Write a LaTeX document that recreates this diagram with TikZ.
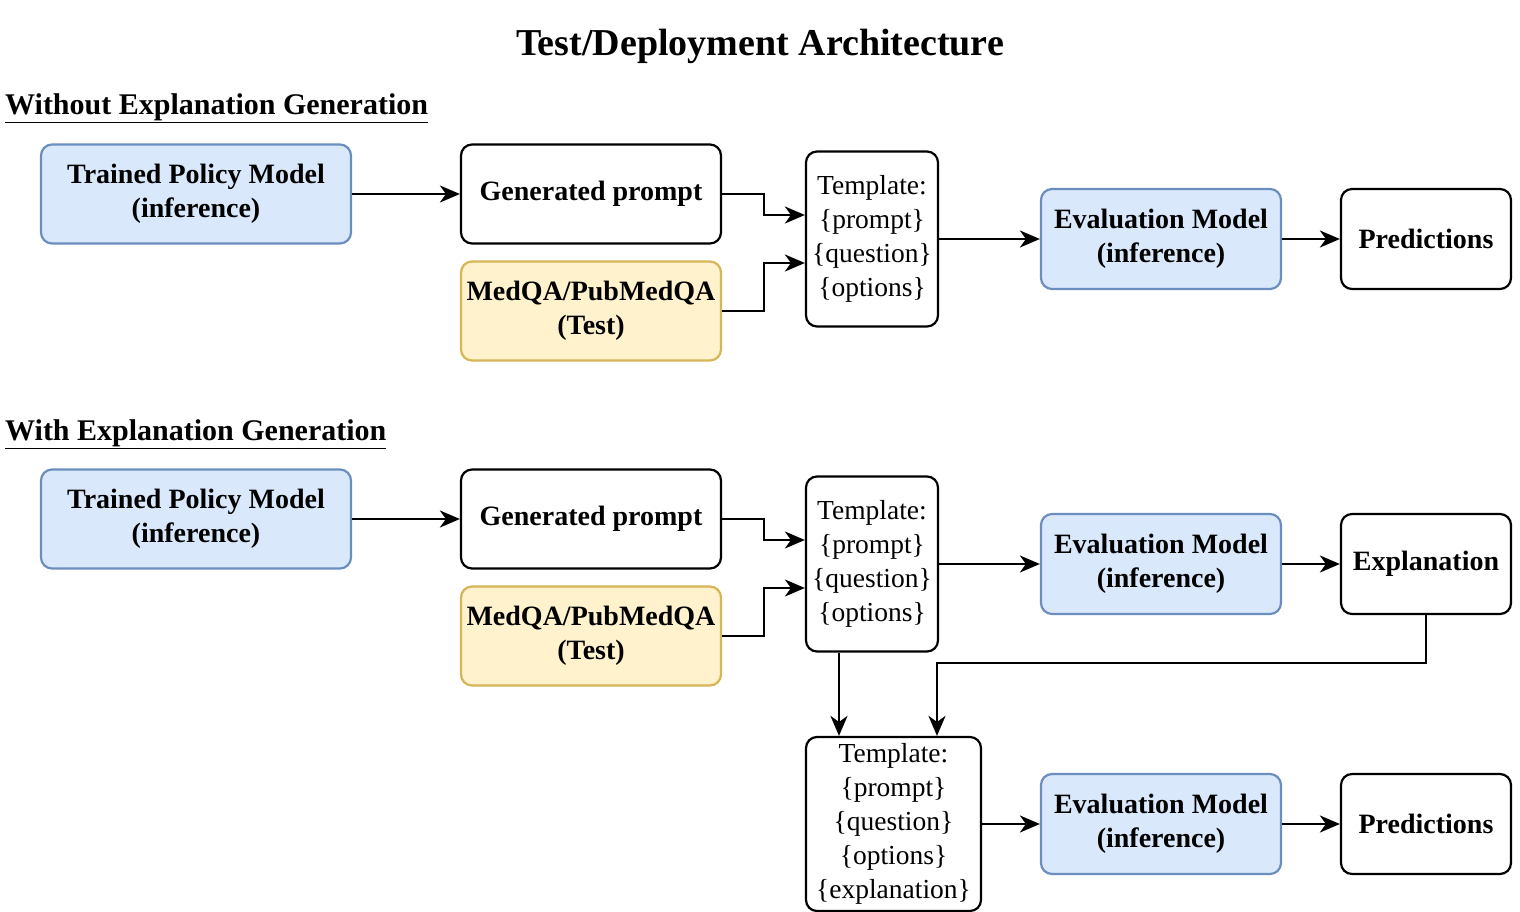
\documentclass[tikz,border=0pt]{standalone}
\usepackage{fontspec}
\setmainfont{Liberation Serif}
\usepackage{xcolor}
\usetikzlibrary{arrows.meta}
\definecolor{blueFill}{HTML}{DAE8FC}
\definecolor{blueLine}{HTML}{6C8EBF}
\definecolor{yellowFill}{HTML}{FFF2CC}
\definecolor{yellowLine}{HTML}{D6B656}
\tikzset{
  box/.style={draw=black, line width=2.2pt, rounded corners=11pt, align=center, inner sep=0pt,
    font=\fontsize{28}{34}\selectfont\bfseries},
  bluebox/.style={box, draw=blueLine, fill=blueFill},
  yellowbox/.style={box, draw=yellowLine, fill=yellowFill},
  tmplbox/.style={box, font=\fontsize{27.5}{34}\selectfont},
  arr/.style={line width=2.2pt, -{Stealth[length=20pt,width=17pt,inset=6pt]}},
  heading/.style={anchor=west, inner sep=0pt, font=\fontsize{30}{34}\selectfont\bfseries}
}

\begin{document}
\begin{tikzpicture}[x=1pt,y=1pt,yscale=-1,xscale=1]
\useasboundingbox (0,0) rectangle (1520,912);

\node (title) at (760,46) [font=\fontsize{38}{44}\selectfont\bfseries] {Test/Deployment Architecture};

% without explanation generation
\node (headA) at (5,108) [heading] {\underline{Without Explanation Generation}};
\node (policyA) at (196,194) [bluebox, minimum width=310pt, minimum height=99pt] {Trained Policy Model\\(inference)};
\node (promptA) at (591,194) [box, minimum width=260pt, minimum height=99pt] {Generated prompt};
\node (dataA) at (591,311) [yellowbox, minimum width=260pt, minimum height=99pt] {MedQA/PubMedQA\\(Test)};
\node (tmplA) at (872,239) [tmplbox, minimum width=132pt, minimum height=175pt] {Template:\\\{prompt\}\\\{question\}\\\{options\}};
\node (evalA) at (1161,239) [bluebox, minimum width=240pt, minimum height=100pt] {Evaluation Model\\(inference)};
\node (predA) at (1426,239) [box, minimum width=170pt, minimum height=100pt] {Predictions};

\draw[arr] (policyA) -- (promptA);
\draw[arr] (promptA.east) -- ++(42,0) |- ([yshift=-24pt]tmplA.west);
\draw[arr] (dataA.east) -- ++(42,0) |- ([yshift=24pt]tmplA.west);
\draw[arr] (tmplA) -- (evalA);
\draw[arr] (evalA) -- (predA);

% with explanation generation
\node (headB) at (5,434) [heading] {\underline{With Explanation Generation}};
\node (policyB) at (196,519) [bluebox, minimum width=310pt, minimum height=99pt] {Trained Policy Model\\(inference)};
\node (promptB) at (591,519) [box, minimum width=260pt, minimum height=99pt] {Generated prompt};
\node (dataB) at (591,636) [yellowbox, minimum width=260pt, minimum height=99pt] {MedQA/PubMedQA\\(Test)};
\node (tmplB) at (872,564) [tmplbox, minimum width=132pt, minimum height=175pt] {Template:\\\{prompt\}\\\{question\}\\\{options\}};
\node (evalB) at (1161,564) [bluebox, minimum width=240pt, minimum height=100pt] {Evaluation Model\\(inference)};
\node (explB) at (1426,564) [box, minimum width=170pt, minimum height=100pt] {Explanation};
\node (tmplC) at (893.5,824) [tmplbox, minimum width=175pt, minimum height=174pt] {Template:\\\{prompt\}\\\{question\}\\\{options\}\\\{explanation\}};
\node (evalC) at (1161,824) [bluebox, minimum width=240pt, minimum height=100pt] {Evaluation Model\\(inference)};
\node (predC) at (1426,824) [box, minimum width=170pt, minimum height=100pt] {Predictions};

\draw[arr] (policyB) -- (promptB);
\draw[arr] (promptB.east) -- ++(42,0) |- ([yshift=-24pt]tmplB.west);
\draw[arr] (dataB.east) -- ++(42,0) |- ([yshift=24pt]tmplB.west);
\draw[arr] (tmplB) -- (evalB);
\draw[arr] (evalB) -- (explB);
\draw[arr] ([xshift=-33pt]tmplB.south) -- ([xshift=-54.5pt]tmplC.north);
\draw[arr] (explB.south) |- ++(0,48) -| ([xshift=43.5pt]tmplC.north);
\draw[arr] (tmplC) -- (evalC);
\draw[arr] (evalC) -- (predC);

\end{tikzpicture}
\end{document}
